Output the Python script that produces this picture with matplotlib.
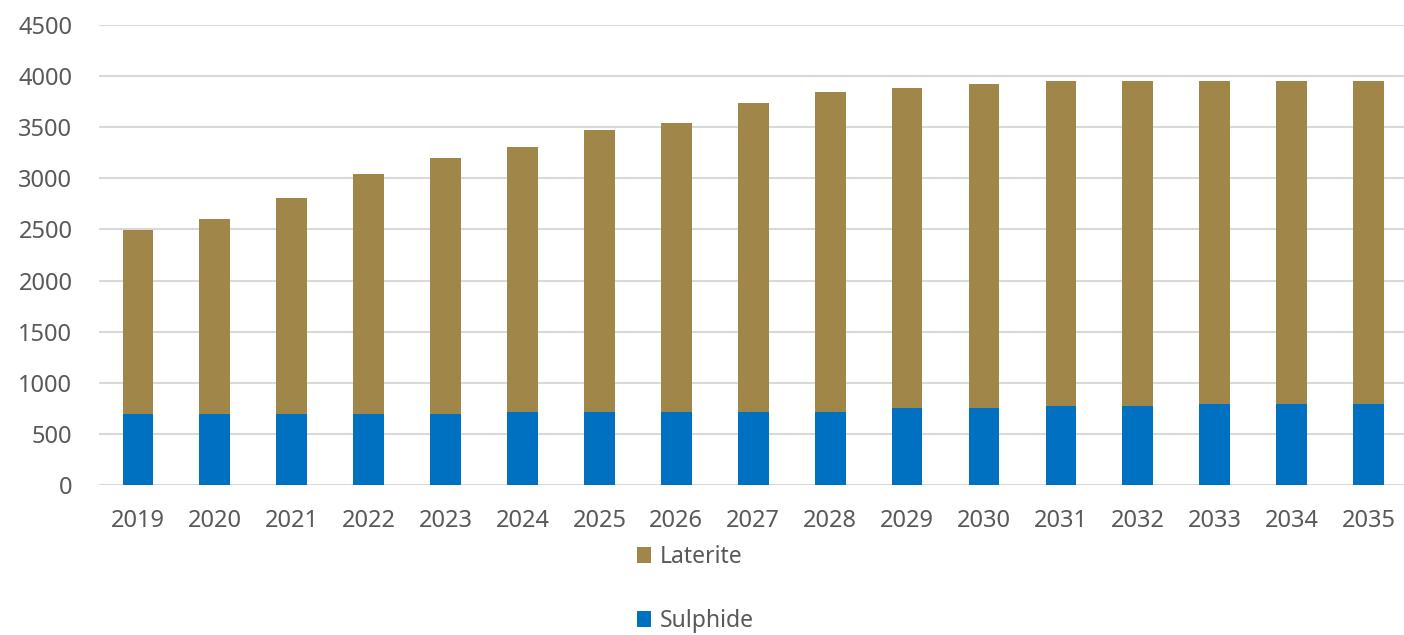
import matplotlib
matplotlib.use("Agg")
import matplotlib.pyplot as plt
import numpy as np

years = [str(y) for y in range(2019, 2036)]
total = [2490, 2600, 2810, 3045, 3200, 3305, 3475, 3540, 3735, 3840,
         3880, 3925, 3950, 3950, 3950, 3950, 3950]
sulphide = [690, 690, 690, 690, 690, 710, 710, 710, 710, 710,
            750, 750, 775, 775, 795, 795, 795]
laterite = [t - s for t, s in zip(total, sulphide)]

LATERITE_COLOR = "#A08749"
SULPHIDE_COLOR = "#0070C0"
TEXT_COLOR = "#595959"
GRID_COLOR = "#D9D9D9"

plt.rcParams["font.family"] = ["Noto Sans", "DejaVu Sans"]

fig = plt.figure(figsize=(14.04, 6.35), dpi=100)
ax = fig.add_axes([99.5 / 1404, 150 / 635, (1407 - 99.5) / 1404, 460 / 635])

x = np.arange(len(years))
ax.bar(x, sulphide, width=0.4, color=SULPHIDE_COLOR, label="Sulphide", zorder=2)
ax.bar(x, laterite, width=0.4, bottom=sulphide, color=LATERITE_COLOR,
       label="Laterite", zorder=2)

ax.set_xlim(-0.5, len(years) - 0.5)
ax.set_ylim(0, 4500)
ax.set_yticks(range(0, 4501, 500))
ax.set_xticks(x)
ax.set_xticklabels(years)
ax.grid(axis="y", color=GRID_COLOR, linewidth=1.5, zorder=0)
ax.set_axisbelow(True)
for side in ["top", "right", "left", "bottom"]:
    ax.spines[side].set_visible(False)
ax.tick_params(axis="both", length=0, labelsize=17, labelcolor=TEXT_COLOR)
ax.tick_params(axis="y", pad=19.5)
ax.tick_params(axis="x", pad=17)

handles, labels = ax.get_legend_handles_labels()
leg = fig.legend(handles[::-1], labels[::-1], loc="center",
                 bbox_to_anchor=(695 / 1404, 46 / 635), frameon=False,
                 fontsize=16.5, labelspacing=1.75, handlelength=0.65,
                 handleheight=0.65, handletextpad=0.35)
for t in leg.get_texts():
    t.set_color(TEXT_COLOR)

fig.savefig("out.png", dpi=100)
